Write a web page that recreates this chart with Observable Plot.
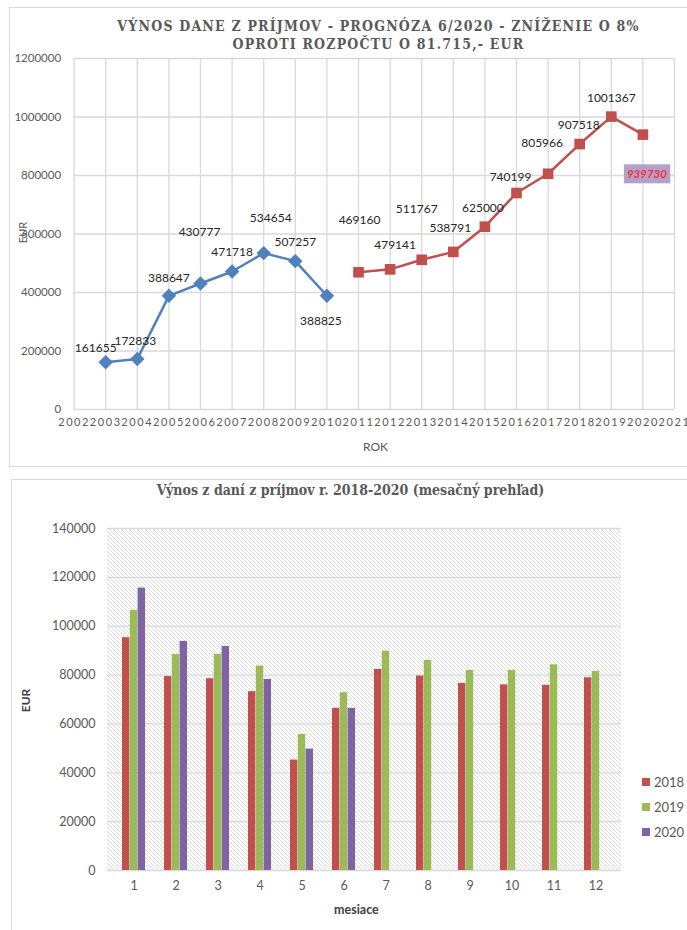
<!DOCTYPE html>
<html><head><meta charset="utf-8">
<script src="https://cdn.jsdelivr.net/npm/d3@7"></script>
<script src="https://cdn.jsdelivr.net/npm/@observablehq/plot@0.6"></script>
<style>
body{margin:0;background:#fff;width:687px;height:930px;position:relative;overflow:hidden;font-family:Lato,"Open Sans",sans-serif;}
.box{position:absolute;border:1px solid #d9d9d9;}
#box1{left:9px;top:7px;width:720px;height:458px;}
#box2{left:11px;top:479px;width:720px;height:480px;}
.title{position:absolute;left:0;width:687px;text-align:center;font-family:"DejaVu Serif Condensed","DejaVu Serif",serif;font-stretch:condensed;font-weight:bold;color:#595959;white-space:nowrap;}
#t1{top:17px;font-size:14px;letter-spacing:1.2px;line-height:18px;padding-left:70px;box-sizing:border-box;}
#t2{top:482px;font-size:14px;padding-left:14px;box-sizing:border-box;}
#c1,#c2{position:absolute;left:0;}
#c1{top:0}
#c2{top:500px}
.axt{position:absolute;color:#595959;font-size:11px;white-space:nowrap;}
.legend{position:absolute;left:642px;font-size:13px;color:#595959;}
.legend div{height:25px;display:flex;align-items:center;}
.legend span.sw{display:inline-block;width:8px;height:8px;margin-right:4px;}
</style></head>
<body>
<div class="box" id="box1"></div>
<div class="box" id="box2"></div>
<div id="c1"></div>
<div id="c2"></div>
<div class="title" id="t1">VÝNOS DANE Z PRÍJMOV - PROGNÓZA 6/2020 - ZNÍŽENIE O 8%<br>OPROTI ROZPOČTU O 81.715,- EUR</div>
<div class="title" id="t2">Výnos z daní z príjmov r. 2018-2020 (mesačný prehľad)</div>
<div class="axt" id="eur1" style="left:12px;top:226px;transform:rotate(-90deg);">EUR</div>
<div class="axt" id="rok" style="left:363px;top:439px;font-size:12px;">ROK</div>
<div class="axt" id="eur2" style="left:14px;top:693px;transform:rotate(-90deg);font-weight:bold;color:#404040;font-size:12px;">EUR</div>
<div class="axt" id="mes" style="left:334px;top:902px;font-weight:bold;color:#404040;font-size:12.5px;">mesiace</div>
<div class="legend" id="legend" style="top:769px;"></div>
<script>
// ---- Top chart data ----
const yearTicks = [2002,2003,2004,2005,2006,2007,2008,2009,2010,2011,2012,2013,2014,2015,2016,2017,2018,2019,2020,2021];
const yTicksTop = [0,200000,400000,600000,800000,1000000,1200000];
const blueYears = [2003,2004,2005,2006,2007,2008,2009,2010];
const blueValues = [161655,172833,388647,430777,471718,534654,507257,388825];
const redYears = [2011,2012,2013,2014,2015,2016,2017,2018,2019,2020];
const redValues = [469160,479141,511767,538791,625000,740199,805966,907518,1001367,939730];
// label placement (pixel offsets from the point, as dragged in the original)
const blueLabelOffsets = [[-10,-14],[-2,-18],[0,-18],[-1,-51],[0,-19],[7,-35],[0,-19],[-6,25]];
const redLabelOffsets = [[1,-52],[5,-24],[-5,-51],[-3,-24],[-2,-19],[-6,-16],[-6,-31],[-1,-19],[0,-18],[4,40]];

// ---- Bottom chart data ----
const months = [1,2,3,4,5,6,7,8,9,10,11,12];
const yTicksBottom = [0,20000,40000,60000,80000,100000,120000,140000];
const seriesYears = ["2018","2019","2020"];
const seriesColors = ["#c0504d","#9bbb59","#8064a2"];
const values2018 = [95300,79400,78500,73200,45200,66400,82300,79600,76600,76000,75800,78900];
const values2019 = [106500,88400,88500,83700,55700,72800,89800,86000,81900,81900,84200,81500];
const values2020 = [115600,93800,91700,78200,49700,66400];

const blue = blueYears.map((y,i)=>({year:y, value:blueValues[i]}));
const red = redYears.map((y,i)=>({year:y, value:redValues[i]}));

const labelMarks = (data, offsets, color) => data.map((d,i)=>Plot.text([d], {
  x:"year", y:"value", text:d=>String(d.value), dx:offsets[i][0], dy:offsets[i][1],
  fill: color, fontSize:12
}));

const chart1 = Plot.plot({
  width:687, height:465,
  marginLeft:73.6, marginRight:13, marginTop:58, marginBottom:56,
  style:{fontFamily:"Lato, 'Open Sans', sans-serif", fontSize:"11px", color:"#595959", background:"transparent"},
  x:{type:"linear", domain:[2002,2021]},
  y:{domain:[0,1200000]},
  marks:[
    Plot.gridX(yearTicks, {stroke:"#d9d9d9", strokeOpacity:1, strokeWidth:1.3}),
    Plot.gridY(yTicksTop, {stroke:"#d9d9d9", strokeOpacity:1, strokeWidth:1.3}),
    Plot.axisX(yearTicks, {tickFormat:"d", tickSize:0, tickPadding:9, label:null, fill:"#595959", fontSize:11}),
    Plot.axisY(yTicksTop, {tickFormat:"d", tickSize:0, tickPadding:13, label:null, fill:"#595959", fontSize:11.5}),
    Plot.line(blue, {x:"year", y:"value", stroke:"#4f81bd", strokeWidth:2.5}),
    Plot.dot(blue, {x:"year", y:"value", symbol:"diamond2", fill:"#4f81bd", r:6.5}),
    Plot.line(red, {x:"year", y:"value", stroke:"#c0504d", strokeWidth:2.5}),
    Plot.dot(red, {x:"year", y:"value", symbol:"square", fill:"#c0504d", r:6}),
    ...labelMarks(blue, blueLabelOffsets, "#262626"),
    ...labelMarks(red.slice(0,9), redLabelOffsets.slice(0,9), "#262626"),
    Plot.text([red[9]], {x:"year", y:"value", text:d=>String(d.value), dx:redLabelOffsets[9][0], dy:redLabelOffsets[9][1],
      fill:"#ff2a3a", fontSize:11.5, fontStyle:"italic", fontWeight:"bold", className:"hl"})
  ]
});
document.getElementById("c1").appendChild(chart1);
d3.select(chart1).selectAll('[aria-label="x-axis tick label"] text').attr("letter-spacing","1.6px");
// highlight box behind the last forecast label
d3.select(chart1).selectAll(".hl text").each(function(){
  const b = this.getBBox();
  const r = d3.select(this.parentNode).insert("rect","text")
    .attr("x", b.x-3).attr("y", b.y-3).attr("width", b.width+6).attr("height", b.height+6)
    .attr("fill","#b3a2c7");
  const tf = this.getAttribute("transform");
  if (tf) r.attr("transform", tf);
});

// ---- Bottom chart ----
const rows = (vals) => vals.map((v,i)=>({month:months[i], value:v}));
const hatch = (index, scales, values, dims) => {
  const g = d3.create("svg:g");
  const pat = g.append("defs").append("pattern").attr("id","hatch")
    .attr("patternUnits","userSpaceOnUse").attr("width",4).attr("height",4);
  pat.append("rect").attr("width",4).attr("height",4).attr("fill","#ffffff");
  pat.append("path").attr("d","M-1,-1L5,5M-1,3L1,5M3,-1L5,1").attr("stroke","#d6d6d6").attr("stroke-width",0.9);
  g.append("rect").attr("x",dims.marginLeft).attr("y",dims.marginTop)
    .attr("width",dims.width-dims.marginLeft-dims.marginRight)
    .attr("height",dims.height-dims.marginTop-dims.marginBottom)
    .attr("fill","url(#hatch)");
  return g.node();
};
const bw = 23.4/3;
const chart2 = Plot.plot({
  width:687, height:430,
  marginLeft:107, marginRight:66, marginTop:28, marginBottom:60,
  style:{fontFamily:"Lato, 'Open Sans', sans-serif", fontSize:"12px", color:"#595959", background:"transparent"},
  x:{type:"band", domain:months, paddingInner:0.453, paddingOuter:0.227},
  y:{domain:[0,140000]},
  marks:[
    hatch,
    Plot.gridY(yTicksBottom, {stroke:"#d9d9d9", strokeOpacity:1, strokeWidth:1.3}),
    Plot.axisY(yTicksBottom, {tickFormat:"d", tickSize:0, tickPadding:12, label:null, fill:"#595959", fontSize:12.5}),
    Plot.axisX(months, {tickSize:0, tickPadding:11, label:null, fill:"#595959", fontSize:12.5}),
    Plot.barY(rows(values2018), {x:"month", y:"value", fill:seriesColors[0], insetLeft:0, insetRight:2*bw}),
    Plot.barY(rows(values2019), {x:"month", y:"value", fill:seriesColors[1], insetLeft:bw, insetRight:bw}),
    Plot.barY(rows(values2020), {x:"month", y:"value", fill:seriesColors[2], insetLeft:2*bw, insetRight:0})
  ]
});
document.getElementById("c2").appendChild(chart2);

const leg = document.getElementById("legend");
seriesYears.forEach((y,i)=>{
  const d = document.createElement("div");
  d.innerHTML = `<span class="sw" style="background:${seriesColors[i]}"></span>${y}`;
  leg.appendChild(d);
});
</script>
</body></html>
